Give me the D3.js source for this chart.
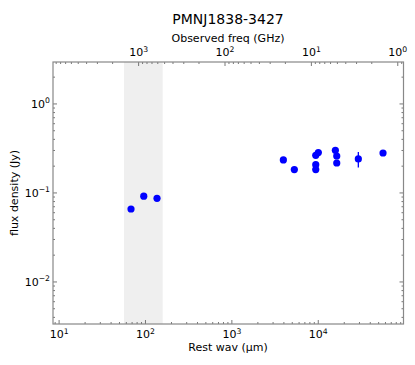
<!DOCTYPE html>
<html><head><meta charset="utf-8">
<script src="https://cdn.jsdelivr.net/npm/d3@7"></script>
<style>body{margin:0;background:#fff}svg{display:block}text{font-family:"DejaVu Sans",sans-serif;fill:#000}</style>
</head><body><svg id="c" width="415" height="365"></svg>
<script>
const title = "PMNJ1838-3427";
const redshift = 2.6;
const restWav = [68, 95.5, 136, 3945, 5286, 9354, 10020, 9354, 9354, 15780, 16370, 16370, 29100, 56200];
const flux    = [0.066, 0.092, 0.087, 0.235, 0.183, 0.265, 0.284, 0.208, 0.183, 0.302, 0.26, 0.217, 0.241, 0.281];
const fluxErr = [0, 0, 0, 0, 0, 0, 0, 0, 0, 0, 0, 0, 0.048, 0];
const shadeBand = [56.5, 158];
const xDomain = [8.5, 97000];
const yDomain = [0.00337, 2.96];

const L = 53, R = 403.5, T = 62, B = 324;
const svg = d3.select("#c");
const x = d3.scaleLog().domain(xDomain).range([L, R]);
const y = d3.scaleLog().domain(yDomain).range([B, T]);
const toFreq = w => 299792.458 / (w * (1 + redshift));
const xTop = d3.scaleLog().domain([toFreq(xDomain[0]), toFreq(xDomain[1])]).range([L, R]);

// shaded band
svg.append("rect").attr("x", x(shadeBand[0])).attr("y", T)
  .attr("width", x(shadeBand[1]) - x(shadeBand[0])).attr("height", B - T)
  .attr("fill", "#efefef");

function logTicks(dom) {
  const lo = Math.min(...dom), hi = Math.max(...dom);
  const out = [];
  for (let k = Math.floor(Math.log10(lo)); k <= Math.ceil(Math.log10(hi)); k++) {
    for (let m = 1; m <= 9; m++) {
      const v = m * Math.pow(10, k);
      if (v >= lo * 0.9999 && v <= hi * 1.0001) out.push({v, major: m === 1, k});
    }
  }
  return out;
}
const tickCol = "#555";
const g = svg.append("g");
// bottom
logTicks(xDomain).forEach(t => {
  const px = x(t.v);
  g.append("line").attr("x1", px).attr("x2", px).attr("y1", B).attr("y2", B - (t.major ? 4 : 2)).attr("stroke", tickCol).attr("stroke-width", 0.8);
  if (t.major) {
    const tx = g.append("text").attr("x", px).attr("y", 338).attr("text-anchor", "middle").attr("font-size", 11);
    tx.append("tspan").text("10");
    tx.append("tspan").attr("dy", -4.5).attr("font-size", 7.7).text(t.k);
  }
});
// top
logTicks(xTop.domain()).forEach(t => {
  const px = xTop(t.v);
  g.append("line").attr("x1", px).attr("x2", px).attr("y1", T).attr("y2", T + (t.major ? 4 : 2)).attr("stroke", tickCol).attr("stroke-width", 0.8);
  if (t.major) {
    const tx = g.append("text").attr("x", px).attr("y", 56).attr("text-anchor", "middle").attr("font-size", 11);
    tx.append("tspan").text("10");
    tx.append("tspan").attr("dy", -4).attr("font-size", 7.7).text(t.k);
  }
});
// left & right
logTicks(yDomain).forEach(t => {
  const py = y(t.v);
  const len = t.major ? 4 : 2;
  g.append("line").attr("x1", L).attr("x2", L + len).attr("y1", py).attr("y2", py).attr("stroke", tickCol).attr("stroke-width", 0.8);
  g.append("line").attr("x1", R).attr("x2", R - len).attr("y1", py).attr("y2", py).attr("stroke", tickCol).attr("stroke-width", 0.8);
  if (t.major) {
    const tx = g.append("text").attr("x", 50).attr("y", py + 4).attr("text-anchor", "end").attr("font-size", 11);
    tx.append("tspan").text("10");
    tx.append("tspan").attr("dy", -4.5).attr("font-size", 7.7).text(t.k < 0 ? "\u2212" + (-t.k) : t.k);
  }
});
// frame
svg.append("rect").attr("x", L).attr("y", T).attr("width", R - L).attr("height", B - T)
  .attr("fill", "none").attr("stroke", "#888").attr("stroke-width", 1.2);

// error bars
restWav.forEach((w, i) => {
  if (fluxErr[i] > 0) {
    svg.append("line").attr("x1", x(w)).attr("x2", x(w))
      .attr("y1", y(flux[i] - fluxErr[i])).attr("y2", y(flux[i] + fluxErr[i]))
      .attr("stroke", "#0000ff").attr("stroke-width", 1.3);
  }
});
// points
svg.selectAll("circle.pt").data(restWav).enter().append("circle")
  .attr("cx", d => x(d)).attr("cy", (d, i) => y(flux[i])).attr("r", 3.6).attr("fill", "#0000ff");

// labels
svg.append("text").attr("x", 228).attr("y", 24).attr("text-anchor", "middle").attr("font-size", 14).text(title);
svg.append("text").attr("x", 228).attr("y", 42).attr("text-anchor", "middle").attr("font-size", 11).text("Observed freq (GHz)");
svg.append("text").attr("x", 228).attr("y", 351).attr("text-anchor", "middle").attr("font-size", 11).text("Rest wav (\u03bcm)");
svg.append("text").attr("transform", "translate(18,193) rotate(-90)").attr("text-anchor", "middle").attr("font-size", 11).text("flux density (Jy)");
</script></body></html>
